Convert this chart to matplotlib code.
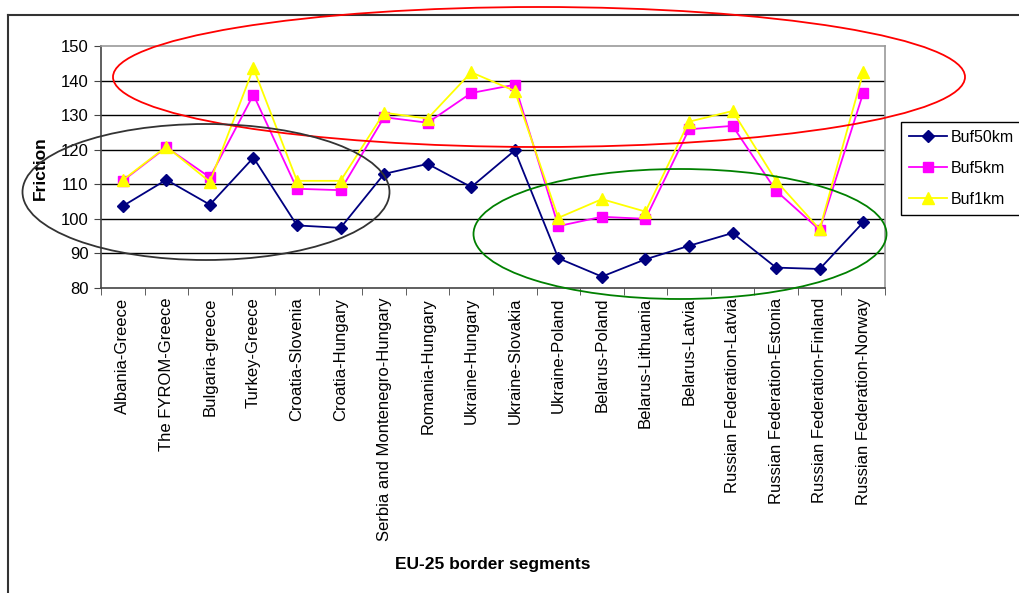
import matplotlib
matplotlib.use('Agg')
import matplotlib.pyplot as plt
from matplotlib.patches import Ellipse
from matplotlib.lines import Line2D
import numpy as np

plt.rcParams['font.family'] = ['Liberation Sans', 'DejaVu Sans']

# ── Data ─────────────────────────────────────────────────────────────────────
segments = ['Albania-Greece', 'The FYROM-Greece', 'Bulgaria-greece', 'Turkey-Greece',
            'Croatia-Slovenia', 'Croatia-Hungary', 'Serbia and Montenegro-Hungary',
            'Romania-Hungary', 'Ukraine-Hungary', 'Ukraine-Slovakia', 'Ukraine-Poland',
            'Belarus-Poland', 'Belarus-Lithuania', 'Belarus-Latvia',
            'Russian Federation-Latvia', 'Russian Federation-Estonia',
            'Russian Federation-Finland', 'Russian Federation-Norway']

buf50km = [103.7, 111.3, 104.1, 117.7, 98.1, 97.4, 113.0, 115.9, 109.2, 119.8,
           88.6, 83.3, 88.3, 92.2, 95.9, 85.9, 85.5, 99.0]
buf5km = [111.0, 120.7, 112.0, 135.9, 108.7, 108.3, 129.4, 127.8, 136.4, 138.8,
          97.9, 100.6, 100.0, 125.9, 126.9, 108.1, 96.8, 136.4]
buf1km = [111.2, 120.9, 110.7, 143.6, 111.0, 111.0, 130.7, 129.0, 142.4, 137.0,
          100.3, 105.7, 102.1, 128.1, 131.2, 111.0, 97.0, 142.4]

yticks = [80, 90, 100, 110, 120, 130, 140, 150]

# ── Figure / axes in pixel layout ────────────────────────────────────────────
W, H = 1019, 593
fig = plt.figure(figsize=(W / 100, H / 100), dpi=100)


def fx(px):
    return px / W


def fy(py):
    return 1 - py / H


ax = fig.add_axes([fx(101), fy(288), fx(885) - fx(101), fy(46) - fy(288)])

x = np.arange(len(segments))
ax.plot(x, buf50km, color='#000080', marker='D', markersize=6.5, lw=1.3, label='Buf50km', zorder=3)
ax.plot(x, buf5km, color='#FF00FF', marker='s', markersize=7, lw=1.3, label='Buf5km', zorder=3)
ax.plot(x, buf1km, color='#FFFF00', marker='^', markersize=8.5, lw=1.3, label='Buf1km', zorder=3)

ax.set_xlim(-0.5, len(segments) - 0.5)
ax.set_ylim(80, 150)
ax.set_yticks(yticks)
for yv in yticks[1:-1]:
    ax.axhline(yv, color='black', lw=1.0, zorder=1)

ax.set_xticks(x)
ax.set_xticklabels(segments, rotation=90, fontsize=12, va='top', ha='center')
ax.set_xticks(np.arange(-0.5, len(segments)), minor=True)
ax.tick_params(axis='x', which='major', length=0, pad=7)
ax.tick_params(axis='x', which='minor', length=5, direction='out', color='#444444')
ax.tick_params(axis='y', length=5, direction='out', labelsize=12, pad=4, color='#444444')

for s in ['top', 'right']:
    ax.spines[s].set_color('#999999')
    ax.spines[s].set_linewidth(1.2)
for s in ['left', 'bottom']:
    ax.spines[s].set_color('#444444')
    ax.spines[s].set_linewidth(1.2)

fig.text(fx(40), fy(168), 'Friction', rotation=90, fontsize=12.5, fontweight='bold',
         ha='center', va='center')
fig.text(fx(493), fy(564), 'EU-25 border segments', fontsize=12.5, fontweight='bold',
         ha='center', va='center')

# chart area border (left and top edges)
fig.add_artist(Line2D([fx(8), fx(8)], [fy(15), 0], color='#333333', lw=1.5))
fig.add_artist(Line2D([fx(8), 1], [fy(15), fy(15)], color='#333333', lw=1.5))

# highlight ellipses
ellipses = [((539, 77), 852, 140, 'red'),
            ((206, 192), 367, 136, '#333333'),
            ((680, 234), 413, 130, 'green')]
for (cx, cy), w, h, col in ellipses:
    fig.add_artist(Ellipse((fx(cx), fy(cy)), w / W, h / H, transform=fig.transFigure,
                           fill=False, edgecolor=col, lw=1.3, zorder=5))

leg = fig.legend(loc='upper left', bbox_to_anchor=(fx(901), fy(122)), fontsize=11.5,
                 frameon=True, fancybox=False, edgecolor='black', framealpha=1,
                 handlelength=2.4, labelspacing=1.0, borderpad=0.5, handletextpad=0.2,
                 borderaxespad=0)
leg.get_frame().set_linewidth(1.0)

fig.savefig('out.png', dpi=100)
